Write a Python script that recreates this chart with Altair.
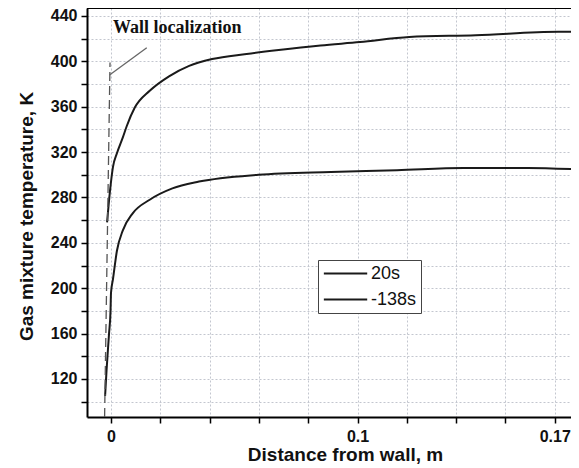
import altair as alt
import pandas as pd

# ---- data ----
legend_labels = ["20s", "-138s"]

upper_d = [-0.0016, -0.0004, 0.0008, 0.0024, 0.0048, 0.0064, 0.0096, 0.0157, 0.0237,
           0.0317, 0.041, 0.055, 0.068, 0.085, 0.101, 0.121, 0.148, 0.1815, 0.1866]
upper_T = [258, 286, 307, 319, 333, 343, 359, 374, 387,
           396, 402, 406.5, 410, 414, 417, 421.5, 423, 426, 426]

lower_d = [-0.0024, -0.0018, -0.0008, -0.0002, 0.0, 0.0008, 0.0024, 0.0048, 0.0088,
           0.0157, 0.0249, 0.0357, 0.0598, 0.0892, 0.116, 0.143, 0.169, 0.1866]
lower_T = [105, 128, 160, 180, 196, 208, 233, 251, 266,
           278, 288, 294, 300, 302.5, 304, 306, 306, 305]

wall_d = [-0.0026, -0.0004]
wall_T = [86.5, 399]

pointer_d = [-0.0006, 0.0145]
pointer_T = [388, 412]

note_text = ["Wall localization"]
note_d = [0.0008]
note_T = [425]

x_ticks = [0, 0.02, 0.04, 0.06, 0.08, 0.1, 0.12, 0.14, 0.16, 0.18]
x_tick_text = ["0", "", "", "", "", "0.1", "", "", "", "0.17"]
y_ticks = list(range(100, 441, 20))
y_tick_text = ["" if v % 40 else str(v) for v in y_ticks]

x_domain = [-0.00974, 0.1866]
y_domain = [86.5, 447]

# ---- tables ----
curves = pd.DataFrame(
    {"d": upper_d + lower_d,
     "T": upper_T + lower_T,
     "series": [legend_labels[0]] * len(upper_d) + [legend_labels[1]] * len(lower_d)}
)
wall = pd.DataFrame({"d": wall_d, "T": wall_T})
pointer = pd.DataFrame({"d": pointer_d, "T": pointer_T})
note = pd.DataFrame({"d": note_d, "T": note_T, "text": note_text})
frame_top = pd.DataFrame({"T": [y_domain[1]]})


def label_expr(values, texts):
    parts = [f"abs(datum.value - ({v})) < 1e-6 ? '{t}'" for v, t in zip(values, texts) if t]
    return " : ".join(parts) + " : ''"


FONT = "Liberation Sans"
xscale = alt.Scale(domain=x_domain, nice=False, zero=False)
yscale = alt.Scale(domain=y_domain, nice=False, zero=False)

common_axis = dict(
    domainColor="black", domainWidth=2, tickColor="black", tickWidth=1.5, tickSize=6,
    grid=True, gridColor="#c3c6cf", gridDash=[2, 2], gridWidth=1,
    labelFont=FONT, labelFontSize=16, labelFontWeight="bold", labelColor="#111",
    titleFont=FONT, titleFontSize=19, titleFontWeight="bold", titleColor="#111",
    labelFlush=False, labelOverlap=False,
)

x_axis = alt.Axis(values=x_ticks, labelExpr=label_expr(x_ticks, x_tick_text), labelPadding=5,
                  title="Distance from wall, m", titleX=258, titleY=43,
                  titleBaseline="alphabetic", titleAlign="center", **common_axis)
y_axis = alt.Axis(values=y_ticks, labelExpr=label_expr(y_ticks, y_tick_text), labelPadding=4,
                  title="Gas mixture temperature, K", titleX=-61, titleY=208,
                  titleBaseline="middle", titleAlign="center", **common_axis)

lines = alt.Chart(curves).mark_line(strokeWidth=2, interpolate="monotone", clip=True).encode(
    x=alt.X("d:Q", scale=xscale, axis=x_axis),
    y=alt.Y("T:Q", scale=yscale, axis=y_axis),
    color=alt.Color(
        "series:N",
        scale=alt.Scale(domain=legend_labels, range=["#1a1a1a", "#1a1a1a"]),
        legend=alt.Legend(
            title=None, orient="none", legendX=231, legendY=252, direction="vertical",
            symbolType="M-0.9,0H4.2", symbolSize=289, symbolStrokeWidth=2,
            labelFont=FONT, labelFontSize=18, labelColor="#111", labelOffset=30,
            padding=4, rowPadding=7, strokeColor="#444", fillColor="white",
        ),
    ),
)

wall_line = alt.Chart(wall).mark_line(color="#555", strokeWidth=1.3, strokeDash=[9, 5]).encode(
    x=alt.X("d:Q", scale=xscale, axis=None), y=alt.Y("T:Q", scale=yscale, axis=None)
)
pointer_line = alt.Chart(pointer).mark_line(color="#666", strokeWidth=1.3).encode(
    x=alt.X("d:Q", scale=xscale, axis=None), y=alt.Y("T:Q", scale=yscale, axis=None)
)
note_mark = alt.Chart(note).mark_text(
    font="Liberation Serif", fontSize=18, fontWeight="bold", align="left",
    baseline="alphabetic", color="#111"
).encode(
    x=alt.X("d:Q", scale=xscale, axis=None),
    y=alt.Y("T:Q", scale=yscale, axis=None),
    text="text:N",
)
top_line = alt.Chart(frame_top).mark_rule(color="black", strokeWidth=2).encode(
    y=alt.Y("T:Q", scale=yscale, axis=None)
)

chart = alt.layer(lines, wall_line, pointer_line, note_mark, top_line).resolve_axis(
    x="independent", y="independent"
).properties(
    width=484, height=409,
    autosize=alt.AutoSizeParams(type="none"),
    padding={"left": 79, "top": 0, "right": 0, "bottom": 51},
    background="white",
).configure_view(stroke=None)

chart.save("out.html", embed_options={"renderer": "svg", "actions": False})
